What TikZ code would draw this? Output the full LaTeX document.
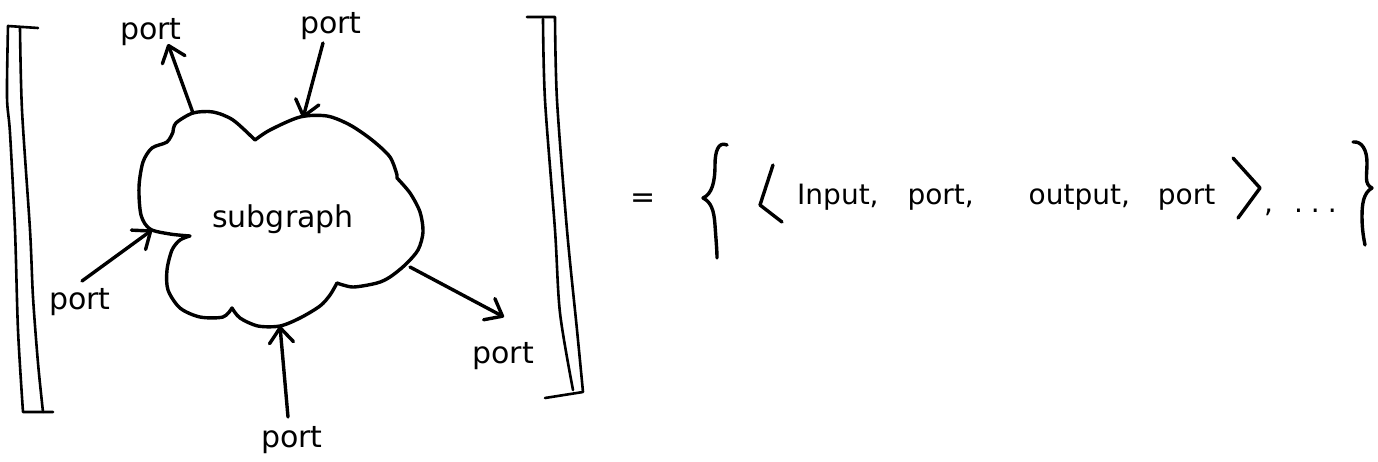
\documentclass[tikz,border=0pt]{standalone}
\usepackage{fontspec}
\setmainfont{DejaVu Sans}
\usetikzlibrary{arrows.meta}
\begin{document}
\begin{tikzpicture}[x=1pt,y=-1pt,
  ink/.style={line width=3.4pt, line cap=round, line join=round},
  thinink/.style={line width=2.6pt, line cap=round, line join=round},
  arr/.style={ink, -{Straight Barb[length=15pt,width=24pt,round]}},
  lbl/.style={font=\fontsize{30}{36}\selectfont, inner sep=0pt},
  portlbl/.style={lbl},
  rowlbl/.style={font=\fontsize{28}{34}\selectfont, inner sep=0pt},
]
\useasboundingbox (0,0) rectangle (1378,461);

% ---------- left bracket ----------
\draw[thinink] (38,28) -- (8,26) -- plot[smooth] coordinates {(8,26) (7,97) (10,133) (15,230) (18,330) (23,412)} -- (53,412);
\draw[thinink] plot[smooth] coordinates {(20,28) (22,110) (30,230) (33,297) (38,363) (43,412)};

% ---------- right bracket ----------
\draw[thinink] (527,17) -- (555,17) -- plot[smooth] coordinates {(555,17) (557,100) (567,230) (577,330) (583,392)} -- (545,398);
\draw[thinink] plot[smooth] coordinates {(543,19) (545,100) (555,230) (560,313) (573,390)};

% ---------- cloud ----------
\draw[ink]
  plot[smooth] coordinates {(173,132) (176,123) (193,113) (213,112) (233,120) (255,140)}
  -- plot[smooth] coordinates {(255,140) (270,130) (300,117) (327,116) (350,125) (372,140) (390,157) (397,175)}
  -- plot[smooth] coordinates {(397,178) (410,193) (420,212) (423,232) (418,250) (405,265) (390,277) (377,283) (353,287) (337,283)}
  -- plot[smooth] coordinates {(337,283) (330,295) (320,306) (300,318) (280,326) (258,326) (240,318) (232,308)}
  -- plot[smooth] coordinates {(232,308) (223,317) (200,317) (180,308) (168,290) (167,270) (172,250) (180,240) (190,236)}
  -- plot[smooth] coordinates {(190,236) (170,234) (150,229) (141,215) (139,187) (143,162) (152,148) (167,142) (173,132)};
\node[lbl] (sub) at (283,219) {subgraph};

% ---------- cloud attachment points ----------
\coordinate (c-tl) at (193,113);
\coordinate (c-t)  at (303,118);
\coordinate (c-l)  at (152,230);
\coordinate (c-b)  at (280,326);
\coordinate (c-r)  at (410,267);

% ---------- port labels and free ends ----------
\node[portlbl] (p-tl) at (151,32) {port};
\node[portlbl] (p-t)  at (331,26) {port};
\node[portlbl] (p-l)  at (80,302) {port};
\node[portlbl] (p-r)  at (503,356) {port};
\node[portlbl] (p-b)  at (292,440) {port};

\coordinate (e-tl) at (168,44);
\coordinate (e-t)  at (323,43);
\coordinate (e-l)  at (82,281);
\coordinate (e-b)  at (288,417);
\coordinate (e-r)  at (504,317);

\draw[arr] (c-tl) -- (e-tl);
\draw[arr] (e-t) -- (c-t);
\draw[arr] (e-l) -- (c-l);
\draw[arr] (e-b) -- (c-b);
\draw[arr] (c-r) -- (e-r);

% ---------- right-hand side ----------
\node[lbl] (eq) at (643,201) {=};

\draw[ink] (727,145) .. controls (718,141) and (715,152) .. (715,165)
  .. controls (715,182) and (712,194) .. (703,198)
  .. controls (711,202) and (714,210) .. (715,225)
  .. controls (716,240) and (717,250) .. (717,258);

\draw[ink] (773,165) -- (760,205) -- (782,222);

\node[rowlbl, anchor=base west] (tuple) at (797,204)
  {Input, \hspace{20pt}port, \hspace{46pt}output, \hspace{19pt}port};

\draw[ink] (1233,158) -- (1260,188) -- (1238,218);

\node[rowlbl, anchor=base west] (dots) at (1264,212)
  {, \hspace{12pt}.\hspace{8pt}.\hspace{8pt}.};

\draw[ink] (1353,142) .. controls (1362,141) and (1367,150) .. (1367,163)
  .. controls (1367,176) and (1364,184) .. (1372,188)
  .. controls (1363,193) and (1362,205) .. (1362,217)
  .. controls (1362,230) and (1364,240) .. (1365,245);
\end{tikzpicture}
\end{document}
